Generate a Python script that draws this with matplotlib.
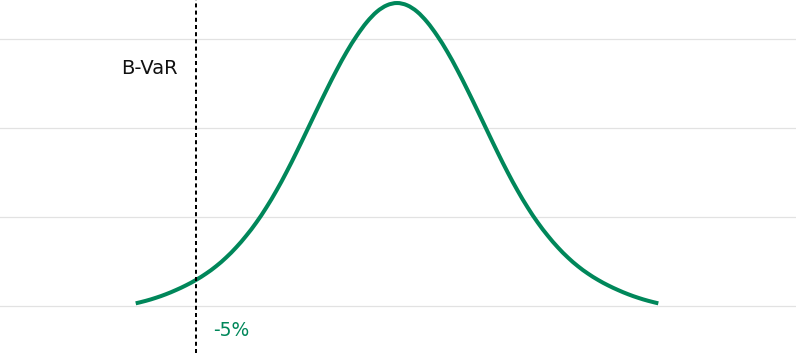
import matplotlib
matplotlib.use("Agg")
import matplotlib.pyplot as plt
from matplotlib.path import Path
from matplotlib.patches import PathPatch
import numpy as np

# Return (%) and density values (symmetric bell curve)
half_returns = [0.0, 0.25, 0.5, 0.75, 1.0, 1.25, 1.5, 1.75, 2.0, 2.25, 2.5,
                2.75, 3.0, 3.25, 3.5, 3.75, 4.0, 4.25, 4.5, 4.75, 5.0, 5.25,
                5.5, 5.75, 6.0, 6.25, 6.5]
half_density = [3.404, 3.379, 3.307, 3.190, 3.037, 2.857, 2.652, 2.430, 2.198,
                1.962, 1.728, 1.504, 1.296, 1.107, 0.938, 0.790, 0.659, 0.545,
                0.447, 0.364, 0.293, 0.232, 0.179, 0.132, 0.092, 0.058, 0.030]
returns = [-r for r in half_returns[:0:-1]] + half_returns
density = half_density[:0:-1] + half_density

grid_levels = [0, 1, 2, 3]
var_level = -5.0
var_name = "B-VaR"
var_label = "-5%"

green = "#00875A"

fig = plt.figure(figsize=(7.96, 3.53), dpi=100)
ax = fig.add_axes([0, 0, 1, 1])
ax.set_xlim(-9.876, 9.925)
ax.set_ylim(-0.528, 3.438)
ax.axis("off")

for g in grid_levels:
    ax.axhline(g, color="#e2e2e2", lw=0.9, zorder=1)

# Smooth curve through the read points (Catmull-Rom rendered as cubic Beziers)
P = np.column_stack([returns, density])
verts = [tuple(P[0])]
codes = [Path.MOVETO]
n = len(P)
for i in range(n - 1):
    p0 = P[i - 1] if i > 0 else P[i]
    p1 = P[i]
    p2 = P[i + 1]
    p3 = P[i + 2] if i + 2 < n else P[i + 1]
    c1 = p1 + (p2 - p0) / 6.0
    c2 = p2 - (p3 - p1) / 6.0
    verts += [tuple(c1), tuple(c2), tuple(p2)]
    codes += [Path.CURVE4] * 3
ax.add_patch(PathPatch(Path(verts, codes), facecolor="none", edgecolor=green,
                       lw=2.9, capstyle="butt", joinstyle="round", zorder=3))

ax.axvline(var_level, color="black", lw=1.44, linestyle=(0, (2, 1.6)), zorder=4)

ax.text(var_level - 0.45, 2.674, var_name, ha="right", va="center",
        fontsize=14, family=["DejaVu Sans"], color="#111111")
ax.text(var_level + 0.42, -0.27, var_label, ha="left", va="center",
        fontsize=13.5, family=["DejaVu Sans"], color=green)

fig.savefig("out.png", dpi=100)
